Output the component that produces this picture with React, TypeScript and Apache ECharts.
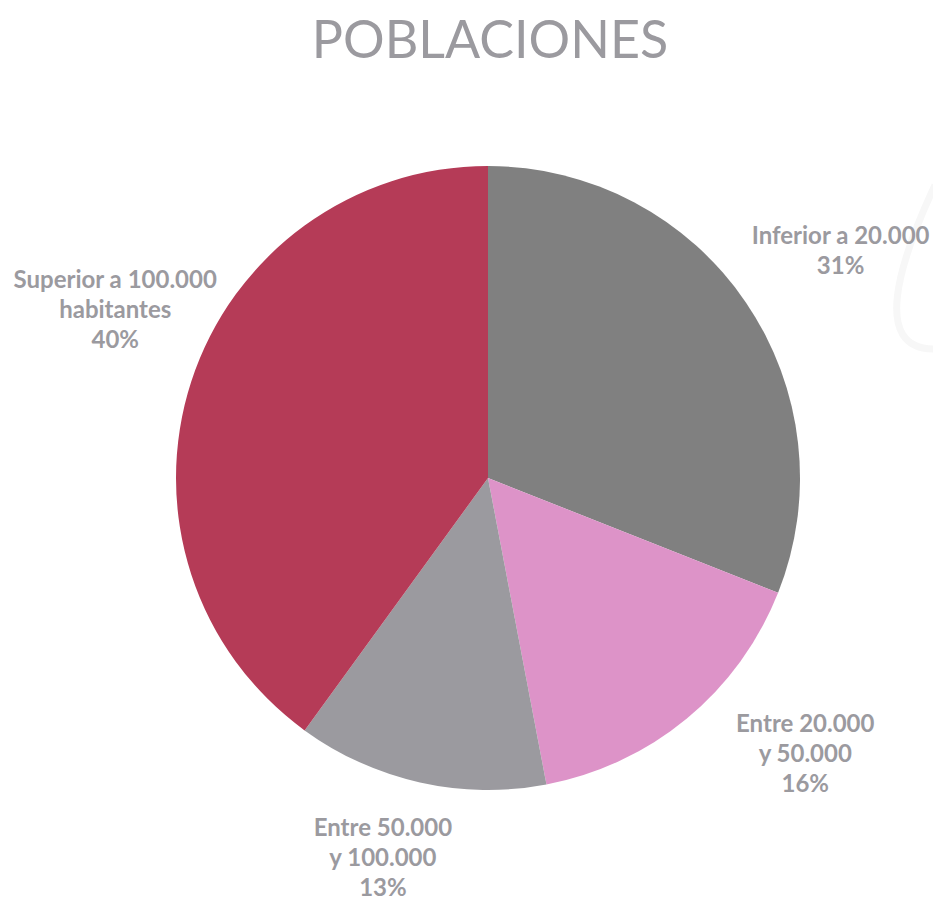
import React, { useEffect, useRef } from "react";
import * as echarts from "echarts";

const titleText = "POBLACIONES";
const categories = [
  "Inferior a 20.000",
  "Entre 20.000\ny 50.000",
  "Entre 50.000\ny 100.000",
  "Superior a 100.000\nhabitantes",
];
const values = [31, 16, 13, 40];
const colors = ["#808080", "#DD93C8", "#9B9A9F", "#B53B57"];
const labelOffsets: [number, number][] = [
  [11, 4],
  [54, -44],
  [-15, -25],
  [20, -42],
];

export default function App() {
  const ref = useRef<HTMLDivElement>(null);
  useEffect(() => {
    if (!ref.current) return;
    const chart = echarts.init(ref.current, null, { renderer: "svg" });
    const center = [488, 478];
    chart.setOption({
      animation: false,
      backgroundColor: "#ffffff",
      title: {
        text: titleText,
        left: 485,
        top: 7,
        textAlign: "center",
        textStyle: {
          fontFamily: "Lato",
          fontWeight: "normal",
          fontSize: 52,
          color: "#9B9A9F",
        },
      },
      graphic: [
        {
          type: "bezierCurve",
          silent: true,
          shape: { x1: 935, y1: 185, cpx1: 900, cpy1: 260, cpx2: 870, cpy2: 350, x2: 935, y2: 349 },
          style: { stroke: "#F7F7F7", lineWidth: 7, fill: null },
        },
      ],
      series: [
        {
          type: "pie",
          center,
          radius: [0, 312],
          startAngle: 90,
          clockwise: true,
          silent: true,
          label: { show: false },
          labelLine: { show: false },
          itemStyle: { borderWidth: 0 },
          data: categories.map((c, i) => ({
            name: c,
            value: values[i],
            itemStyle: { color: colors[i] },
          })),
        },
        {
          type: "pie",
          center,
          radius: [400, 420],
          startAngle: 90,
          clockwise: true,
          silent: true,
          itemStyle: { color: "rgba(0,0,0,0)", borderWidth: 0 },
          label: {
            show: true,
            position: "inside",
            formatter: "{b}\n{d}%",
            fontFamily: "Lato",
            fontWeight: "bold",
            fontSize: 24,
            lineHeight: 30,
            color: "#9B9A9F",
            align: "center",
          },
          labelLine: { show: false },
          data: categories.map((c, i) => ({
            name: c,
            value: values[i],
            label: { offset: labelOffsets[i] },
          })),
        },
      ],
    });
    return () => chart.dispose();
  }, []);
  return (
    <div
      ref={ref}
      style={{ position: "fixed", left: 0, top: 0, width: 933, height: 901 }}
    />
  );
}
